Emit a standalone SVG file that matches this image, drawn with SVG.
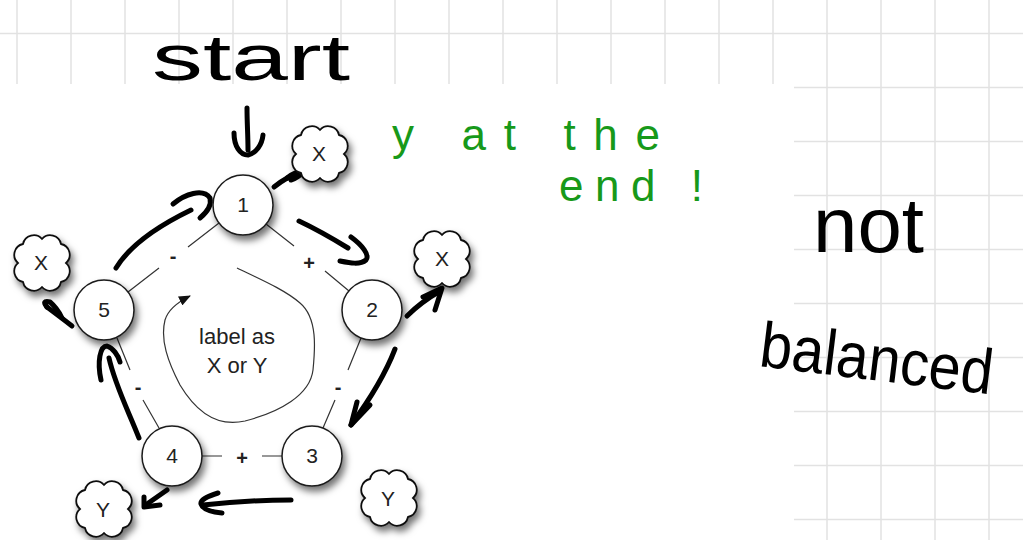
<svg xmlns="http://www.w3.org/2000/svg" width="1023" height="540" viewBox="0 0 1023 540">
  <defs>
    <style>
      .grid { stroke: #e2e2e2; stroke-width: 1.5; fill: none; }
      .node circle { fill: #fff; stroke: #1a1a1a; stroke-width: 1.5; }
      .bubble use { fill: #fff; stroke: #111; stroke-width: 1.8; }
      .lbl { font-family: "Liberation Sans", Arial, sans-serif; font-size: 21px; fill: #222; text-anchor: middle; }
      .sign { font-family: "Liberation Sans", Arial, sans-serif; font-size: 20px; font-weight: bold; fill: #222; text-anchor: middle; }
      .edge { stroke: #333; stroke-width: 1.2; fill: none; }
      .ink { fill: none; stroke: #000; stroke-width: 5; stroke-linecap: round; stroke-linejoin: round; }
      .hand { font-family: "Liberation Sans", Arial, sans-serif; fill: #000; }
      .green { fill: #17991a; }
    </style>
    <filter id="shadow" x="-40%" y="-40%" width="190%" height="190%">
      <feDropShadow dx="3" dy="5" stdDeviation="3.5" flood-color="#000" flood-opacity="0.55"/>
    </filter>
    <!-- eight-lobed thought bubble, centred on 0,0 -->
    <path id="cloud" d="M0,-24 A11,11 0 0 1 19,-19 A11,11 0 0 1 24,0 A11,11 0 0 1 19,19 A11,11 0 0 1 0,24 A11,11 0 0 1 -19,19 A11,11 0 0 1 -24,0 A11,11 0 0 1 -19,-19 A11,11 0 0 1 0,-24 Z"/>
    <marker id="tri" viewBox="0 0 12 10" refX="11" refY="5" markerWidth="12" markerHeight="10" markerUnits="userSpaceOnUse" orient="auto">
      <path d="M0,0 L12,5 L0,10 Z" fill="#111"/>
    </marker>
  </defs>

  <!-- paper -->
  <rect x="0" y="0" width="1023" height="540" fill="#fff"/>
  <g id="grid">
    <path class="grid" d="M17,0V540 M71,0V540 M125,0V540 M179,0V540 M233,0V540 M287,0V540 M341,0V540 M395,0V540 M449,0V540 M503,0V540 M557,0V540 M611,0V540 M665,0V540 M719,0V540 M773,0V540 M827,0V540 M881,0V540 M935,0V540 M989,0V540
      M0,33.5H1023 M0,87.5H1023 M0,141.5H1023 M0,195.5H1023 M0,249.5H1023 M0,303.5H1023 M0,357.5H1023 M0,411.5H1023 M0,465.5H1023 M0,519.5H1023"/>
    <rect x="0" y="84" width="794" height="456" fill="#fff"/>
  </g>

  <!-- signed links between the numbered nodes -->
  <g id="connectors">
    <path class="edge" d="M219,223 L188,247 M159,268 L128,292"/>
    <path class="edge" d="M266,224 L294,246 M325,271 L349,291"/>
    <path class="edge" d="M361,338 L348,370 M335,400 L323,428"/>
    <path class="edge" d="M117,338 L130,370 M143,400 L159,428"/>
    <path class="edge" d="M202,456 L222,456 M262,456 L282,456"/>
    <text class="sign" x="173" y="263">-</text>
    <text class="sign" x="309" y="270">+</text>
    <text class="sign" x="338" y="394">-</text>
    <text class="sign" x="138" y="394">-</text>
    <text class="sign" x="242" y="465">+</text>

    <!-- loop arrow in the middle -->
    <path class="edge" marker-end="url(#tri)" d="M237,268 C262,280 285,290 300,303 C318,318 315,350 313,370 C310,395 280,412 245,421 C215,428 195,410 180,385 C168,362 160,340 165,320 C168,310 176,303 190,296"/>

    <!-- ink arrows -->
    <g id="ink-arrows">
      <path class="ink" d="M247,108 C247,122 248,136 248,150"/>
      <path class="ink" d="M234,133 C234,146 240,155 248,155 C256,153 262,145 263,135"/>

      <path class="ink" d="M274,187 Q286,177 302,172"/>
      <path class="ink" d="M287,178 Q296,171 303,172 Q298,178 291,180"/>
      <circle cx="303" cy="164" r="2.2" fill="#000"/>

      <path class="ink" d="M116,268 C130,245 160,225 191,210"/>
      <path class="ink" d="M173,204 C185,194 203,188 210,198 C212,206 206,213 200,218"/>

      <path class="ink" d="M299,221 C318,230 335,240 348,248"/>
      <path class="ink" d="M351,237 C362,245 370,255 366,260 C360,265 350,263 340,261"/>

      <path class="ink" d="M407,316 C418,305 428,298 440,291"/>
      <path class="ink" d="M423,297 L442,288 L435,310"/>

      <path class="ink" d="M395,349 C385,375 368,402 351,425"/>
      <path class="ink" d="M357,402 L351,425 L370,405"/>

      <path class="ink" d="M291,500 C260,500 230,502 203,505"/>
      <path class="ink" d="M218,493 C208,496 200,500 201,504 C203,510 212,512 222,513"/>

      <path class="ink" d="M167,490 L147,504"/>
      <path class="ink" d="M144,497 L144,507 L160,505"/>

      <path class="ink" d="M139,438 C128,410 115,385 109,358"/>
      <path class="ink" d="M101,380 C97,362 100,346 107,346 C113,348 118,355 120,362"/>

      <path class="ink" d="M72,326 C63,319 55,313 47,307"/>
      <path class="ink" d="M47,307 Q41,300 50,302 Q57,308 62,318"/>
    </g>
  </g>

  <!-- numbered nodes -->
  <g id="node-1" class="node">
    <circle cx="243" cy="205" r="30" filter="url(#shadow)"/>
    <text class="lbl" x="243" y="212">1</text>
  </g>
  <g id="node-2" class="node">
    <circle cx="372" cy="310" r="30" filter="url(#shadow)"/>
    <text class="lbl" x="372" y="317">2</text>
  </g>
  <g id="node-3" class="node">
    <circle cx="312" cy="456" r="30" filter="url(#shadow)"/>
    <text class="lbl" x="312" y="463">3</text>
  </g>
  <g id="node-4" class="node">
    <circle cx="172" cy="456" r="30" filter="url(#shadow)"/>
    <text class="lbl" x="172" y="463">4</text>
  </g>
  <g id="node-5" class="node">
    <circle cx="104" cy="310" r="30" filter="url(#shadow)"/>
    <text class="lbl" x="104" y="317">5</text>
  </g>

  <!-- outcome bubbles -->
  <g id="bubble-x-top" class="bubble">
    <use href="#cloud" transform="translate(320,154)" filter="url(#shadow)"/>
    <text class="lbl" x="319" y="161">X</text>
  </g>
  <g id="bubble-x-right" class="bubble">
    <use href="#cloud" transform="translate(442,259)" filter="url(#shadow)"/>
    <text class="lbl" x="442" y="266">X</text>
  </g>
  <g id="bubble-x-left" class="bubble">
    <use href="#cloud" transform="translate(42,263)" filter="url(#shadow)"/>
    <text class="lbl" x="41" y="270">X</text>
  </g>
  <g id="bubble-y-left" class="bubble">
    <use href="#cloud" transform="translate(104,509)" filter="url(#shadow)"/>
    <text class="lbl" x="103" y="517">Y</text>
  </g>
  <g id="bubble-y-right" class="bubble">
    <use href="#cloud" transform="translate(389,498)" filter="url(#shadow)"/>
    <text class="lbl" x="388" y="506">Y</text>
  </g>

  <!-- centre note -->
  <g id="centre-note">
    <text class="lbl" x="237" y="344" style="font-size:22px">label as</text>
    <text class="lbl" x="237" y="373" style="font-size:22px">X or Y</text>
  </g>

  <!-- handwritten notes -->
  <g id="notes">
    <text class="hand" x="152" y="80" font-size="64" textLength="198" lengthAdjust="spacingAndGlyphs">start</text>
    <text class="hand green" x="392" y="150" font-size="44" textLength="268" lengthAdjust="spacing">y at the</text>
    <text class="hand green" x="559" y="201" font-size="44" textLength="144" lengthAdjust="spacing">end !</text>
    <text class="hand" x="813" y="252" font-size="78" textLength="111" lengthAdjust="spacingAndGlyphs">not</text>
    <text class="hand" x="758" y="366" font-size="64" textLength="234" lengthAdjust="spacingAndGlyphs" transform="rotate(7 758 366)">balanced</text>
  </g>
</svg>
